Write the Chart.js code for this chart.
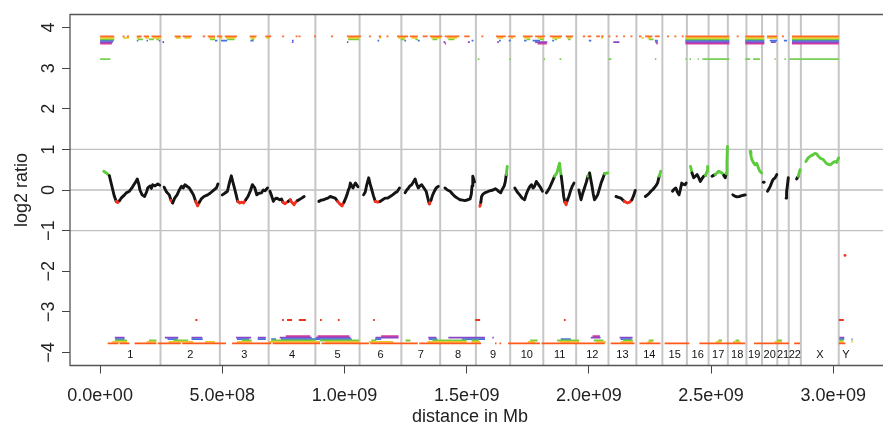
<!DOCTYPE html>
<html lang="en">
<head>
  <meta charset="UTF-8" />
  <title>log2 ratio genome plot</title>
  <script src="https://cdn.jsdelivr.net/npm/chart.js"></script>
  <style>
    html, body { margin: 0; padding: 0; background: #fff; overflow: hidden; }
    #wrap { width: 887px; height: 426px; }
  </style>
</head>
<body>
  <div id="wrap"><canvas id="plot" width="887" height="426"></canvas></div>

  <script>
    // chromosomes (hg18 lengths, Mb)
    const chromNames = ['1','2','3','4','5','6','7','8','9','10','11','12','13','14','15','16','17','18','19','20','21','22','X','Y'];
    const chromLen = [247.2, 242.9, 199.5, 191.3, 180.9, 170.9, 158.8, 146.3, 140.3, 135.4, 134.5, 132.3,
                      114.1, 106.4, 100.3, 88.8, 78.8, 76.1, 63.8, 62.4, 46.9, 49.7, 154.9, 57.8];

    const xTicks = [0, 500, 1000, 1500, 2000, 2500, 3000];
    const yTicks = [-4, -3, -2, -1, 0, 1, 2, 3, 4];
    const yGrid = [-1, 0, 1];

    // smoothed log2 ratio profile, genome position in Mb (null = break between chromosomes)
    const profilePos = [
      15, 25, 38, 50, 58, 66, 72, 80, 86, 100, 107, 120, 130, 138, 146, 152, 158, 163, 172, 182, 190, 195, 205, 210, 215, 225, 236, 244, null,
      262, 272, 283, 290, 297, 305, 315, 324, 333, 340, 347, 358, 365, 375, 382, 391, 399, 406, 414, 425, 440, 450, 460, 470, 476, 482, null,
      500, 510, 521, 530, 537, 543, 548, 556, 563, 572, 580, 587, 596, 605, 615, 623, 633, 641, 650, 660, 668, 675, 685, null,
      695, 702, 709, 715, 722, 735, 742, 748, 757, 764, 770, 778, 784, 794, 800, 808, 814, 825, 835, null,
      895, 905, 915, 922, 932, 942, 952, 962, 972, 982, 990, 998, 1005, 1010, 1016, 1020, 1024, 1030, 1035, 1040, 1045, 1055, null,
      1078, 1085, 1090, 1099, 1105, 1112, 1119, 1126, 1136, 1146, 1156, 1166, 1177, 1187, 1197, 1207, 1216, 1225, null,
      1248, 1255, 1262, 1268, 1275, 1282, 1289, 1295, 1302, 1309, 1316, 1325, 1334, 1341, 1347, 1354, 1361, 1368, 1375, 1384, null,
      1411, 1421, 1432, 1442, 1452, 1462, 1473, 1483, 1493, 1504, 1514, 1519, 1522, 1525, 1532, null,
      1554, 1558, 1561, 1567, 1574, 1590, 1608, 1617, 1625, 1632, 1639, 1646, 1653, 1658, 1662, 1666, null,
      1697, 1707, 1717, 1727, 1737, 1744, 1751, 1758, 1765, 1772, 1778, 1785, 1792, 1799, 1805, 1810, null,
      1826, 1832, 1839, 1850, 1860, 1869, 1875, 1880, 1884, 1887, 1892, 1897, 1902, 1907, 1912, 1918, 1925, 1932, 1939, null,
      1959, 1968, 1975, 1982, 1990, 1996, 2003, 2008, 2013, 2018, 2023, 2030, 2036, 2043, 2050, 2057, 2064, 2077, null,
      2111, 2121, 2131, 2138, 2145, 2152, 2159, 2167, 2176, 2183, 2190, null,
      2231, 2240, 2247, 2254, 2260, 2267, 2274, 2281, 2288, 2294, null,
      2342, 2349, 2356, 2362, 2369, 2374, 2380, 2387, 2394, 2398, null,
      2416, 2422, 2429, 2436, 2443, 2450, 2456, 2463, 2470, 2477, 2484, 2486, null,
      2504, 2510, 2517, 2524, 2531, 2538, 2545, 2552, 2558, 2562, 2565, 2567, null,
      2589, 2597, 2606, 2616, 2626, 2633, 2640, null,
      2660, 2663, 2667, 2673, 2680, 2687, 2693, 2700, 2707, null,
      2714, 2717, null, 2731, 2737, 2742, 2748, 2753, 2758, 2762, 2769, null,
      2807, 2809, 2812, 2816, null,
      2850, 2857, 2864, null,
      2888, 2897, 2908, 2918, 2925, 2932, 2938, 2945, 2952, 2959, 2966, 2973, 2980, 2987, 2994, 3000, 3007, 3014, 3022
    ];
    const profileVal = [
      0.46, 0.42, 0.35, 0.05, -0.15, -0.28, -0.31, -0.26, -0.2, -0.12, -0.07, -0.03, 0.05, 0.13, 0.2, 0.27, 0.15, 0.0, -0.12, -0.16, -0.05, 0.05, 0.1, 0.04, 0.13, 0.1, 0.15, 0.12, null,
      0.07, -0.05, -0.12, -0.25, -0.32, -0.2, -0.12, 0.0, 0.09, 0.05, 0.13, 0.08, 0.05, -0.05, -0.12, -0.28, -0.39, -0.3, -0.22, -0.16, -0.12, -0.08, -0.03, 0.02, 0.05, 0.15, null,
      -0.12, -0.08, -0.03, 0.2, 0.35, 0.2, 0.09, -0.1, -0.28, -0.32, -0.3, -0.32, -0.24, -0.16, -0.02, 0.13, 0.05, -0.12, -0.08, -0.07, 0.0, -0.02, 0.05, null,
      -0.03, -0.15, -0.28, -0.22, -0.2, -0.24, -0.22, -0.3, -0.34, -0.3, -0.28, -0.24, -0.3, -0.36, -0.3, -0.26, -0.24, -0.2, -0.16, null,
      -0.28, -0.25, -0.24, -0.22, -0.2, -0.16, -0.18, -0.2, -0.28, -0.35, -0.39, -0.3, -0.2, -0.12, 0.0, 0.05, 0.17, 0.1, 0.05, 0.12, 0.17, 0.08, null,
      -0.12, -0.05, 0.1, 0.3, 0.15, 0.0, -0.15, -0.28, -0.3, -0.28, -0.24, -0.2, -0.2, -0.16, -0.12, -0.07, -0.04, 0.05, null,
      -0.07, 0.0, 0.05, 0.1, 0.13, 0.2, 0.27, 0.15, 0.05, 0.1, 0.13, 0.05, -0.03, -0.2, -0.34, -0.25, -0.12, -0.03, 0.05, 0.09, null,
      0.05, 0.0, -0.03, -0.1, -0.16, -0.2, -0.24, -0.25, -0.26, -0.24, -0.22, -0.1, 0.1, 0.34, 0.2, null,
      -0.4, -0.3, -0.16, -0.1, -0.07, -0.03, 0.0, 0.03, 0.0, -0.04, -0.07, 0.02, 0.09, 0.2, 0.38, 0.58, null,
      0.05, -0.05, -0.12, -0.2, -0.24, -0.1, 0.0, 0.08, 0.13, 0.05, 0.09, 0.21, 0.15, 0.09, 0.03, -0.03, null,
      -0.07, -0.02, 0.05, 0.2, 0.34, 0.42, 0.55, 0.66, 0.45, 0.34, 0.1, -0.16, -0.3, -0.36, -0.25, -0.16, -0.02, 0.09, 0.17, null,
      0.0, -0.24, -0.08, 0.05, 0.2, 0.34, 0.42, 0.25, 0.09, -0.1, -0.24, -0.18, -0.12, 0.02, 0.17, 0.28, 0.4, 0.42, null,
      -0.16, -0.18, -0.2, -0.24, -0.28, -0.3, -0.32, -0.3, -0.24, -0.14, -0.01, null,
      -0.16, -0.12, -0.08, -0.03, 0.0, 0.05, 0.1, 0.17, 0.34, 0.46, null,
      -0.03, 0.02, 0.05, -0.05, -0.12, 0.0, 0.17, 0.14, 0.13, 0.17, null,
      0.58, 0.42, 0.3, 0.34, 0.38, 0.3, 0.21, 0.28, 0.34, 0.36, 0.46, 0.58, null,
      0.34, 0.36, 0.38, 0.42, 0.46, 0.44, 0.42, 0.36, 0.3, 0.4, 0.66, 1.07, null,
      -0.12, -0.15, -0.17, -0.16, -0.14, -0.13, -0.12, null,
      0.95, 0.85, 0.75, 0.68, 0.62, 0.66, 0.55, 0.46, 0.42, null,
      0.19, 0.19, null, -0.03, 0.03, 0.09, 0.18, 0.25, 0.28, 0.3, 0.38, null,
      -0.2, -0.05, 0.09, 0.3, null,
      0.27, 0.34, 0.5, null,
      0.7, 0.79, 0.84, 0.87, 0.9, 0.89, 0.84, 0.79, 0.77, 0.75, 0.7, 0.65, 0.63, 0.62, 0.65, 0.68, 0.7, 0.68, 0.79
    ];
    const lonePos = [3048];
    const loneVal = [-1.61];

    // gain calls at the top of the plot: [start, end] in Mb, one list per row
    const gainLevels = [3.78, 3.745, 3.71, 3.675, 3.64, 3.605, 3.22];
    const gainRows = [
      [[0,58],[92,100],[110,118],[150,170],[178,200],[210,250],[305,330],[338,375],[420,430],[440,470],[478,500],[510,560],[612,640],[676,700],[745,753],[800,808],[812,820],[875,883],[945,953],[1010,1068],[1100,1108],[1140,1150],[1172,1180],[1215,1260],[1268,1300],[1320,1340],[1350,1400],[1410,1470],[1490,1512],[1560,1568],[1620,1660],[1670,1700],[1730,1770],[1780,1820],[1840,1890],[1905,1935],[1975,1985],[1995,2010],[2030,2045],[2050,2060],[2080,2088],[2110,2118],[2140,2148],[2170,2178],[2205,2215],[2230,2260],[2270,2290],[2320,2328],[2350,2358],[2380,2388],[2395,2575],[2605,2613],[2640,2718],[2729,2770],[2790,2798],[2831,3023]],
      [[0,58],[95,118],[150,165],[185,200],[215,248],[310,330],[345,370],[445,470],[490,500],[515,555],[615,635],[680,695],[1015,1060],[1142,1150],[1220,1250],[1275,1298],[1355,1395],[1420,1460],[1625,1650],[1680,1690],[1735,1760],[1790,1815],[1850,1885],[1910,1930],[2050,2058],[2215,2225],[2240,2255],[2395,2575],[2640,2718],[2729,2770],[2831,3023]],
      [[0,58],[155,175],[200,220],[230,240],[450,470],[520,550],[620,630],[1015,1060],[1230,1245],[1290,1300],[1360,1380],[1425,1450],[1745,1760],[1800,1815],[1860,1870],[1915,1925],[2245,2265],[2395,2575],[2640,2718],[2831,3023]],
      [[0,56],[150,156],[190,196],[240,246],[470,480],[495,520],[615,628],[785,792],[1135,1142],[1245,1252],[1300,1308],[1520,1528],[1632,1640],[1672,1680],[1735,1745],[1770,1800],[1850,1858],[2000,2010],[2270,2282],[2395,2575],[2640,2718],[2740,2770],[2798,2811],[2831,3023]],
      [[0,52],[255,262],[785,791],[1010,1016],[1405,1413],[1505,1513],[1625,1632],[1780,1830],[2100,2125],[2272,2282],[2395,2575],[2640,2718],[2745,2765],[2831,3023]],
      [[0,48],[1410,1416],[1790,1828],[2276,2282],[2395,2575],[2640,2718],[2831,3023]],
      [[0,42],[1545,1552],[1675,1681],[1815,1821],[1880,1887],[2080,2092],[2270,2276],[2395,2400],[2412,2418],[2445,2450],[2465,2575],[2640,2660],[2672,2700],[2760,2765],[2800,2806],[2820,3023]]
    ];

    // loss calls at the bottom of the plot
    const lossLevels = [-3.775, -3.74, -3.705, -3.67, -3.635, -3.6, -3.2];
    const lossRows = [
      [[31,75],[80,120],[141,230],[236,330],[336,515],[540,700],[706,900],[906,1100],[1106,1300],[1306,1559],[1616,1622],[1634,1641],[1669,1800],[1806,2065],[2089,2187],[2207,2293],[2310,2411],[2452,2640],[2676,2819],[2840,2864],[3023,3050]],
      [[50,110],[190,230],[280,380],[430,470],[560,620],[690,900],[920,1060],[1100,1200],[1340,1500],[1520,1555],[1750,1780],[1880,1960],[2030,2070],[2130,2180],[2240,2260],[2520,2540],[2590,2620],[2760,2790],[3025,3042],[3075,3079]],
      [[60,110],[200,230],[300,360],[580,620],[700,880],[900,1060],[1110,1130],[1250,1270],[1360,1500],[1520,1550],[1760,1790],[1870,1960],[2020,2060],[2140,2180],[2245,2265],[2530,2545],[2600,2615],[2770,2790],[3025,3042],[3075,3079]],
      [[62,100],[276,317],[374,420],[560,610],[645,678],[700,720],[740,1030],[1125,1150],[1345,1380],[1480,1575],[1885,1926],[2130,2175],[3025,3045],[3075,3079]],
      [[60,100],[265,320],[374,418],[556,618],[645,678],[735,866],[883,1025],[1127,1221],[1343,1376],[1425,1575],[1605,1611],[2008,2048],[2126,2179],[3025,3045]],
      [[760,860],[890,1020],[1150,1221],[2015,2045]],
      [[390,398],[745,752],[765,785],[813,842],[900,907],[973,980],[1117,1124],[1535,1555],[1898,1905],[3023,3043]]
    ];

    const BLACK = '#141414', RED = '#f2301e', GREEN = '#5ccc3c';
    const gainColors = ['#ff6a26', '#e6cf2a', '#79cc3f', '#3f72dd', '#8a45c8', '#d23c9e', '#77d054'];
    const lossColors = ['#ff5a1a', '#eac52c', '#79cc3f', '#3f72dd', '#8a45c8', '#d23c9e', '#f2301e'];
    const FONT = "'Liberation Sans', Arial, sans-serif";

    function rowPoints(intervals, level) {
      const pts = [];
      intervals.forEach(([a, b]) => {
        pts.push({ x: a, y: level }, { x: b, y: level }, { x: b, y: null });
      });
      return pts;
    }

    const profilePts = [];
    let lastX = 0;
    profilePos.forEach((p, i) => {
      if (p === null) profilePts.push({ x: lastX, y: null });
      else { profilePts.push({ x: p, y: profileVal[i] }); lastX = p; }
    });

    const datasets = [];
    gainRows.forEach((r, i) => datasets.push({
      data: rowPoints(r, gainLevels[i]), borderColor: gainColors[i], borderWidth: 1.8,
      pointRadius: 0, borderCapStyle: 'butt', spanGaps: false
    }));
    lossRows.forEach((r, i) => datasets.push({
      data: rowPoints(r, lossLevels[i]), borderColor: lossColors[i], borderWidth: 1.8,
      pointRadius: 0, borderCapStyle: 'butt', spanGaps: false
    }));
    datasets.push({
      data: profilePts, borderColor: BLACK, borderWidth: 2.9, pointRadius: 0, spanGaps: false,
      borderJoinStyle: 'round', borderCapStyle: 'round',
      segment: {
        borderColor: c => {
          const a = c.p0.parsed.y, b = c.p1.parsed.y;
          const lo = Math.min(a, b), hi = Math.max(a, b);
          if (hi >= 0.4 && lo >= 0.33) return GREEN;
          if (lo <= -0.3 && hi <= -0.24) return RED;
          return BLACK;
        }
      }
    });
    datasets.push({
      data: lonePos.map((p, i) => ({ x: p, y: loneVal[i] })), showLine: false,
      pointRadius: 1.4, pointBackgroundColor: RED, pointBorderWidth: 0
    });

    function fmtBp(mb) {
      const bp = mb * 1e6;
      if (bp === 0) return '0.0e+00';
      const e = Math.floor(Math.log10(bp));
      return (bp / Math.pow(10, e)).toFixed(1) + 'e+' + String(e).padStart(2, '0');
    }

    const decor = {
      id: 'decor',
      beforeDatasetsDraw(chart) {
        const { ctx, chartArea: ca, scales: { x, y } } = chart;
        ctx.save();
        ctx.strokeStyle = '#bfbfbf';
        ctx.lineWidth = 1.4;
        yGrid.forEach(v => {
          const py = y.getPixelForValue(v);
          ctx.beginPath(); ctx.moveTo(ca.left, py); ctx.lineTo(ca.right, py); ctx.stroke();
        });
        ctx.strokeStyle = '#c6c6c6';
        ctx.lineWidth = 2;
        let cum = 0;
        chromLen.slice(0, chromLen.length - 1).forEach(len => {
          cum += len;
          const px = x.getPixelForValue(cum);
          ctx.beginPath(); ctx.moveTo(px, ca.top); ctx.lineTo(px, ca.bottom); ctx.stroke();
        });
        ctx.restore();
      },
      afterDatasetsDraw(chart) {
        const { ctx, chartArea: ca, scales: { x, y } } = chart;
        ctx.save();
        // chromosome names
        ctx.fillStyle = '#111';
        ctx.font = '11px ' + FONT;
        ctx.textAlign = 'center';
        ctx.textBaseline = 'middle';
        let cum = 0;
        chromLen.forEach((len, i) => {
          ctx.fillText(chromNames[i], x.getPixelForValue(cum + len / 2), y.getPixelForValue(-4.06));
          cum += len;
        });
        // box
        ctx.strokeStyle = '#555';
        ctx.lineWidth = 1.3;
        ctx.beginPath();
        ctx.moveTo(ca.right + 2, ca.top); ctx.lineTo(ca.left, ca.top);
        ctx.lineTo(ca.left, ca.bottom); ctx.lineTo(ca.right + 2, ca.bottom);
        ctx.stroke();
        // y tick labels, rotated like R
        ctx.fillStyle = '#222';
        ctx.font = '18px ' + FONT;
        yTicks.forEach(v => {
          ctx.save();
          ctx.translate(ca.left - 21, y.getPixelForValue(v));
          ctx.rotate(-Math.PI / 2);
          ctx.fillText(String(v).replace('-', '\u2212'), 0, 0);
          ctx.restore();
        });
        // axis titles
        ctx.fillText('distance in Mb', 470, 417);
        ctx.save();
        ctx.translate(22, (ca.top + ca.bottom) / 2);
        ctx.rotate(-Math.PI / 2);
        ctx.fillText('log2 ratio', 0, 0);
        ctx.restore();
        ctx.restore();
      }
    };

    new Chart(document.getElementById('plot').getContext('2d'), {
      type: 'line',
      data: { datasets },
      options: {
        responsive: false,
        animation: false,
        devicePixelRatio: 1,
        layout: { padding: { top: 14.5, right: 0.7, left: 0, bottom: 0 } },
        plugins: { legend: { display: false }, tooltip: { enabled: false } },
        scales: {
          x: {
            type: 'linear', min: -123.2, max: 3203.6,
            border: { display: false },
            grid: { display: true, drawOnChartArea: false, drawTicks: true, tickLength: 8, tickColor: '#444' },
            ticks: {
              stepSize: 500, includeBounds: false, autoSkip: false, maxRotation: 0, padding: 12,
              color: '#222', font: { family: FONT, size: 18 }, callback: v => fmtBp(v)
            },
            afterBuildTicks: s => { s.ticks = xTicks.map(v => ({ value: v })); },
            afterFit: s => { s.height = 60.5; }
          },
          y: {
            type: 'linear', min: -4.32, max: 4.32,
            border: { display: false },
            grid: { display: true, drawOnChartArea: false, drawTicks: true, tickLength: 8, tickColor: '#444' },
            ticks: { stepSize: 1, includeBounds: false, display: false },
            afterBuildTicks: s => { s.ticks = yTicks.map(v => ({ value: v })); },
            afterFit: s => { s.width = 70; }
          }
        }
      },
      plugins: [decor]
    });
  </script>
</body>
</html>
